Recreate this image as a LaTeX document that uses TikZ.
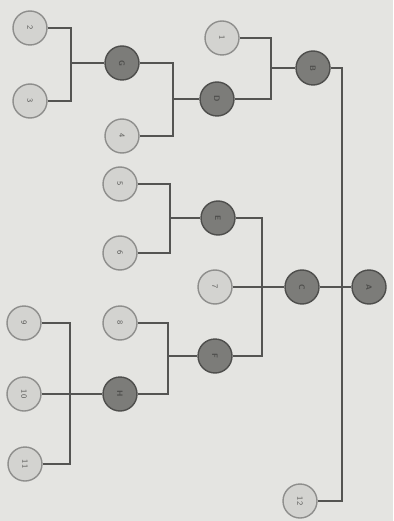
\documentclass[tikz,border=0pt]{standalone}
\definecolor{bgc}{HTML}{E4E4E1}
\definecolor{lightfill}{HTML}{D3D3D0}
\definecolor{lightdraw}{HTML}{8E8E8C}
\definecolor{darkfill}{HTML}{7C7C79}
\definecolor{darkdraw}{HTML}{4E4E4C}
\definecolor{linec}{HTML}{545452}
\definecolor{txtc}{HTML}{5A5A58}
\begin{document}
\begin{tikzpicture}[x=1pt,y=-1pt,
  leaf/.style={circle,minimum size=34pt,inner sep=0pt,fill=lightfill,draw=lightdraw,line width=1.4pt,font=\sffamily\footnotesize,text=txtc,rotate=-90},
  inner/.style={circle,minimum size=34pt,inner sep=0pt,fill=darkfill,draw=darkdraw,line width=1.4pt,font=\sffamily\footnotesize\bfseries,text=darkdraw,rotate=-90},
  conn/.style={draw=linec,line width=1.6pt}]
\useasboundingbox[fill=bgc] (0,0) rectangle (393,521);
% nodes
\node[leaf] (n2) at (30,28) {2};
\node[leaf] (n3) at (30,101) {3};
\node[inner] (G) at (122,63) {G};
\node[leaf] (n4) at (122,136) {4};
\node[leaf] (n1) at (222,38) {1};
\node[inner] (D) at (217,99) {D};
\node[inner] (B) at (313,68) {B};
\node[leaf] (n5) at (120,184) {5};
\node[leaf] (n6) at (120,253) {6};
\node[inner] (E) at (218,218) {E};
\node[leaf] (n7) at (215,287) {7};
\node[inner] (C) at (302,287) {C};
\node[inner] (A) at (369,287) {A};
\node[leaf] (n8) at (120,323) {8};
\node[inner] (F) at (215,356) {F};
\node[leaf] (n9) at (24,323) {9};
\node[leaf] (n10) at (24,394) {10};
\node[inner] (H) at (120,394) {H};
\node[leaf] (n11) at (25,464) {11};
\node[leaf] (n12) at (300,501) {12};
% junctions
\coordinate (jG) at (71,63);
\coordinate (jD) at (173,99);
\coordinate (jB) at (271,68);
\coordinate (jE) at (170,218);
\coordinate (jC) at (262,287);
\coordinate (jF) at (168,356);
\coordinate (jH) at (70,394);
\coordinate (jA) at (342,287);
% connectors
\draw[conn] (n2) -| (jG);
\draw[conn] (n3) -| (jG);
\draw[conn] (jG) -- (G);
\draw[conn] (G) -| (jD);
\draw[conn] (n4) -| (jD);
\draw[conn] (jD) -- (D);
\draw[conn] (n1) -| (jB);
\draw[conn] (D) -| (jB);
\draw[conn] (jB) -- (B);
\draw[conn] (B) -| (jA);
\draw[conn] (n12) -| (jA);
\draw[conn] (C) -- (A);
\draw[conn] (n5) -| (jE);
\draw[conn] (n6) -| (jE);
\draw[conn] (jE) -- (E);
\draw[conn] (E) -| (jC);
\draw[conn] (F) -| (jC);
\draw[conn] (n7) -- (C);
\draw[conn] (n8) -| (jF);
\draw[conn] (H) -| (jF);
\draw[conn] (jF) -- (F);
\draw[conn] (n9) -| (jH);
\draw[conn] (n11) -| (jH);
\draw[conn] (n10) -- (H);
\end{tikzpicture}
\end{document}
